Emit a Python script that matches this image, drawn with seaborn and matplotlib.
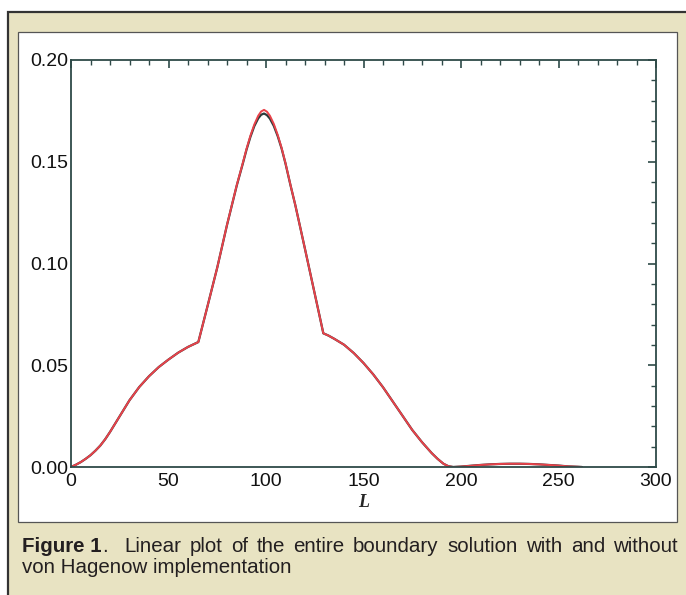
import numpy as np
import pandas as pd
import matplotlib
matplotlib.use('Agg')
import matplotlib.pyplot as plt
from matplotlib.patches import Rectangle
from matplotlib.ticker import MultipleLocator, FormatStrFormatter
import seaborn as sns

# Datos (L, solucion de contorno)
L_vals = [0, 2.5, 5, 7.5, 10, 12.5, 15, 17.5, 20, 25, 30, 35, 40, 45, 50, 55, 60, 65.3,
          70, 75, 80, 85, 88, 90, 92, 94, 96, 97.5, 99, 100.5, 102, 104, 106, 108, 110,
          112.5, 115, 117.5, 120, 122.5, 125, 127.5, 129.4,
          132, 135, 140, 145, 150, 155, 160, 165, 170, 175, 180, 185, 188, 191, 193.5, 196,
          200, 205, 210, 215, 220, 225, 230, 235, 240, 245, 250, 255, 260, 262]

# con von Hagenow (rojo)
con_hagenow = [0.0, 0.0011, 0.0024, 0.0040, 0.0058, 0.0080, 0.0105, 0.0136, 0.0172, 0.0250,
               0.0328, 0.0393, 0.0446, 0.0491, 0.0528, 0.0562, 0.0590, 0.0614,
               0.0790, 0.0980, 0.1190, 0.1385, 0.1490, 0.1563, 0.1628, 0.1683, 0.1726, 0.1747,
               0.1755, 0.1746, 0.1726, 0.1686, 0.1632, 0.1568, 0.1493,
               0.1388, 0.1288, 0.1180, 0.1071, 0.0961, 0.0851, 0.0741, 0.0657,
               0.0646, 0.0630, 0.0601, 0.0560, 0.0511, 0.0455, 0.0392, 0.0322, 0.0252, 0.0182,
               0.0122, 0.0068, 0.0040, 0.0016, 0.0004, 0.0,
               0.0002, 0.0006, 0.0010, 0.0013, 0.0015, 0.0016, 0.0016, 0.0015, 0.0013, 0.0010,
               0.0007, 0.0003, 0.0001, 0.0]

# sin von Hagenow (negro): solo se separa del rojo en el maximo
sin_hagenow = [0.0, 0.0011, 0.0024, 0.0040, 0.0058, 0.0080, 0.0105, 0.0136, 0.0172, 0.0250,
               0.0328, 0.0393, 0.0446, 0.0491, 0.0528, 0.0562, 0.0590, 0.0614,
               0.0790, 0.0980, 0.1189, 0.1383, 0.1487, 0.1559, 0.1622, 0.1675, 0.1713, 0.1731,
               0.1737, 0.1729, 0.1712, 0.1676, 0.1626, 0.1565, 0.1491,
               0.1387, 0.1288, 0.1180, 0.1071, 0.0961, 0.0851, 0.0741, 0.0657,
               0.0646, 0.0630, 0.0601, 0.0560, 0.0511, 0.0455, 0.0392, 0.0322, 0.0252, 0.0182,
               0.0122, 0.0068, 0.0040, 0.0016, 0.0004, 0.0,
               0.0002, 0.0006, 0.0010, 0.0013, 0.0015, 0.0016, 0.0016, 0.0015, 0.0013, 0.0010,
               0.0007, 0.0003, 0.0001, 0.0]

# Pie de figura (primera linea justificada)
pie_linea1 = ['Figure 1', '.', 'Linear', 'plot', 'of', 'the', 'entire', 'boundary', 'solution',
              'with', 'and', 'without']
pie_linea2 = 'von Hagenow implementation'

df = pd.DataFrame({'L': L_vals, 'sin': sin_hagenow, 'con': con_hagenow})

sns.set_style('white')
plt.rcParams['font.family'] = ['Liberation Sans', 'DejaVu Sans']

beige = '#E8E3C2'
eje = '#2E4A48'
texto = '#231F20'

fig = plt.figure(figsize=(6.86, 5.95), dpi=100)
W, H = 686, 595

# Recuadro beige exterior y panel blanco
fig.patches.append(Rectangle((8 / W, -0.05), 1.0, (595 - 12) / H + 0.05, transform=fig.transFigure,
                             facecolor=beige, edgecolor='#333333', linewidth=1.6, zorder=0))
fig.patches.append(Rectangle((18 / W, (595 - 522) / H), (677 - 18) / W, (522 - 32) / H,
                             transform=fig.transFigure, facecolor='white', edgecolor='#555555',
                             linewidth=0.9, zorder=1))

ax = fig.add_axes([71 / W, (595 - 467) / H, (656 - 71) / W, (467 - 60) / H])
ax.set_zorder(3)
ax.set_facecolor('none')

sns.lineplot(data=df, x='L', y='sin', ax=ax, color='#2b3a3a', linewidth=1.6)
sns.lineplot(data=df, x='L', y='con', ax=ax, color='#E8424A', linewidth=1.4)

ax.set_xlim(0, 300)
ax.set_ylim(0, 0.20)
ax.xaxis.set_major_locator(MultipleLocator(50))
ax.xaxis.set_minor_locator(MultipleLocator(10))
ax.yaxis.set_major_locator(MultipleLocator(0.05))
ax.yaxis.set_minor_locator(MultipleLocator(0.01))
ax.yaxis.set_major_formatter(FormatStrFormatter('%.2f'))

ax.tick_params(which='both', direction='in', top=True, right=True, color=eje, labelsize=14,
               labelcolor='#111111')
ax.tick_params(which='major', length=6, width=1.2)
ax.tick_params(axis='x', which='major', pad=4)
ax.tick_params(axis='y', which='major', pad=2)
ax.tick_params(which='minor', length=3.5, width=1.0)
for s in ax.spines.values():
    s.set_color(eje)
    s.set_linewidth(1.3)

ax.set_ylabel('')
ax.set_xlabel('L', family='Liberation Serif', style='italic', fontweight='bold', fontsize=13,
              labelpad=3)

# Primera linea: palabras repartidas entre x=22 y x=678
fs = 14.8
y1 = 1 - 552 / H
textos = []
for i, w in enumerate(pie_linea1):
    t = fig.text(0, y1, w, fontsize=fs, va='baseline', color=texto,
                 fontweight='bold' if i == 0 else 'normal')
    textos.append(t)
fig.canvas.draw()
r = fig.canvas.get_renderer()
anchos = [t.get_window_extent(r).width for t in textos]
x0, x1 = 22, 678
# el hueco tras el punto es doble
hueco = (x1 - x0 - sum(anchos)) / (len(textos) - 1)
x = x0
for i, t in enumerate(textos):
    t.set_x(x / W)
    x += anchos[i]
    if i == 1:
        x += 2 * hueco
    elif i > 1:
        x += hueco

fig.text(22 / W, 1 - 573 / H, pie_linea2, fontsize=fs, va='baseline', color=texto)

fig.savefig('out.png', dpi=100)
